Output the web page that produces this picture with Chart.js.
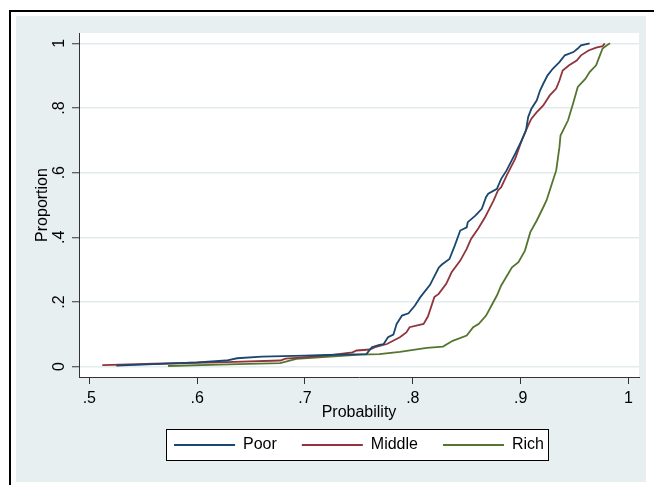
<!DOCTYPE html>
<html><head><meta charset="utf-8">
<script src="https://cdn.jsdelivr.net/npm/chart.js@4"></script>
<style>html,body{margin:0;padding:0;background:#fff;overflow:hidden}canvas{display:block}</style>
</head><body>
<canvas id="c" width="654" height="485"></canvas>
<script>
// ---- data ----
const seriesNames = ['Poor', 'Middle', 'Rich'];

const poorX = [0.525,0.560,0.600,0.627,0.637,0.660,0.700,0.720,0.757,0.762,0.769,0.773,0.777,0.782,0.785,0.790,0.796,0.802,0.807,0.816,0.824,0.827,0.834,0.839,0.844,0.850,0.851,0.858,0.864,0.868,0.870,0.878,0.882,0.887,0.895,0.901,0.905,0.907,0.910,0.915,0.918,0.921,0.925,0.930,0.936,0.941,0.949,0.953,0.956,0.964];
const poorY = [0.003,0.008,0.013,0.019,0.026,0.031,0.034,0.036,0.039,0.060,0.067,0.070,0.091,0.099,0.132,0.158,0.165,0.189,0.215,0.253,0.306,0.316,0.333,0.375,0.421,0.431,0.447,0.467,0.488,0.525,0.535,0.550,0.581,0.607,0.659,0.700,0.731,0.772,0.798,0.824,0.854,0.875,0.901,0.922,0.942,0.963,0.973,0.984,0.994,1.000];

const middleX = [0.512,0.560,0.600,0.627,0.677,0.682,0.692,0.720,0.744,0.748,0.760,0.765,0.776,0.788,0.794,0.797,0.810,0.814,0.820,0.824,0.831,0.836,0.844,0.850,0.854,0.861,0.867,0.871,0.875,0.879,0.882,0.887,0.895,0.901,0.907,0.910,0.915,0.921,0.927,0.933,0.936,0.939,0.945,0.952,0.956,0.963,0.970,0.976,0.978];
const middleY = [0.005,0.009,0.012,0.014,0.019,0.025,0.027,0.034,0.044,0.050,0.053,0.060,0.070,0.091,0.106,0.122,0.132,0.155,0.215,0.225,0.256,0.292,0.328,0.364,0.395,0.429,0.462,0.488,0.514,0.545,0.555,0.591,0.643,0.700,0.746,0.767,0.787,0.808,0.839,0.860,0.885,0.916,0.932,0.947,0.963,0.978,0.987,0.991,1.000];

const richX = [0.573,0.620,0.677,0.684,0.692,0.720,0.751,0.769,0.788,0.813,0.828,0.837,0.850,0.856,0.861,0.868,0.873,0.878,0.882,0.892,0.898,0.904,0.909,0.915,0.921,0.924,0.927,0.929,0.933,0.936,0.937,0.944,0.949,0.953,0.960,0.964,0.970,0.973,0.976,0.980,0.983];
const richY = [0.002,0.006,0.011,0.017,0.024,0.030,0.037,0.039,0.046,0.058,0.062,0.080,0.096,0.122,0.132,0.158,0.189,0.220,0.251,0.307,0.323,0.359,0.416,0.452,0.493,0.514,0.545,0.566,0.607,0.679,0.715,0.762,0.818,0.865,0.890,0.911,0.932,0.958,0.984,0.994,1.000];

const xTicks = [0.5, 0.6, 0.7, 0.8, 0.9, 1.0];
const xTickLabels = ['.5', '.6', '.7', '.8', '.9', '1'];
const yTicks = [0, 0.2, 0.4, 0.6, 0.8, 1.0];
const yTickLabels = ['0', '.2', '.4', '.6', '.8', '1'];
const xTitle = 'Probability';
const yTitle = 'Proportion';

// ---- styling ----
const BG = '#e8eff1';
const GRID = '#e3ebee';
const AXIS = '#333333';
const colors = ['#1a476f', '#90353b', '#55752f'];

Chart.defaults.font.family = '"Liberation Sans", Arial, Helvetica, sans-serif';
Chart.defaults.font.size = 16;
Chart.defaults.color = '#000';

const toPts = (xs, ys) => xs.map((x, i) => ({x: x, y: ys[i]}));
const seriesData = [toPts(poorX, poorY), toPts(middleX, middleY), toPts(richX, richY)];

const frame = {
  id: 'frame',
  beforeDraw(chart) {
    const ctx = chart.ctx, a = chart.chartArea;
    ctx.save();
    ctx.fillStyle = '#ffffff';
    ctx.fillRect(0, 0, chart.width, chart.height);
    ctx.fillStyle = BG;
    ctx.fillRect(16, 16, 630, 466);
    ctx.strokeStyle = '#000';
    ctx.lineWidth = 2;
    ctx.strokeRect(10, 11, 800, 600);
    ctx.fillStyle = '#ffffff';
    ctx.fillRect(a.left, a.top, a.right - a.left, a.bottom - a.top);
    const hb = chart.legend && chart.legend.legendHitBoxes;
    if (hb && hb.length) {
      const f = hb[0], l = hb[hb.length - 1];
      const x0 = Math.round(f.left - 8) + 0.5;
      const x1 = Math.round(l.left + l.width + 4) + 0.5;
      const y0 = Math.round(f.top - 8) + 0.5;
      const y1 = Math.round(f.top + f.height + 7) + 0.5;
      ctx.fillStyle = '#ffffff';
      ctx.fillRect(x0, y0, x1 - x0, y1 - y0);
      ctx.strokeStyle = '#000';
      ctx.lineWidth = 1;
      ctx.strokeRect(x0, y0, x1 - x0, y1 - y0);
    }
    ctx.restore();
  }
};

new Chart(document.getElementById('c'), {
  type: 'scatter',
  data: {
    datasets: seriesNames.map((name, i) => ({
      label: name,
      data: seriesData[i],
      showLine: true,
      borderColor: colors[i],
      backgroundColor: colors[i],
      borderWidth: 1.8,
      pointRadius: 0,
      pointHoverRadius: 0,
      tension: 0,
      fill: false
    }))
  },
  options: {
    responsive: false,
    animation: false,
    devicePixelRatio: 1,
    events: [],
    layout: {padding: {left: 17, top: 33, right: 15, bottom: 22}},
    plugins: {
      tooltip: {enabled: false},
      legend: {
        position: 'bottom',
        fullSize: false,
        labels: {
          usePointStyle: true,
          pointStyle: 'line',
          pointStyleWidth: 61,
          padding: 25,
          color: '#000',
          font: {size: 16}
        }
      }
    },
    scales: {
      x: {
        type: 'linear',
        min: 0.4904,
        max: 1.0098,
        afterBuildTicks: s => { s.ticks = xTicks.map(v => ({value: v})); },
        afterFit: s => { s.height = 35; },
        ticks: {
          autoSkip: false,
          maxRotation: 0,
          padding: 5,
          color: '#000',
          font: {size: 16},
          callback: (v, i) => xTickLabels[i]
        },
        grid: {drawOnChartArea: false, drawTicks: true, tickLength: 7, tickColor: AXIS, tickWidth: 1},
        border: {color: AXIS, width: 1},
        title: {display: true, text: xTitle, color: '#000', font: {size: 16}, padding: {top: 0, bottom: -9.8}}
      },
      y: {
        type: 'linear',
        min: -0.032,
        max: 1.032,
        afterBuildTicks: s => { s.ticks = yTicks.map(v => ({value: v})); },
        afterFit: s => { s.width = 62; },
        ticks: {
          autoSkip: false,
          minRotation: 90,
          maxRotation: 90,
          crossAlign: 'center',
          padding: 5.3,
          color: '#000',
          font: {size: 16},
          callback: (v, i) => yTickLabels[i]
        },
        grid: {color: GRID, lineWidth: 1.5, drawTicks: true, tickLength: 7, tickColor: AXIS, tickWidth: 1},
        border: {color: AXIS, width: 1},
        title: {display: true, text: yTitle, color: '#000', font: {size: 16}, padding: {top: 16.3, bottom: 0}}
      }
    }
  },
  plugins: [frame]
});
</script>
</body></html>
